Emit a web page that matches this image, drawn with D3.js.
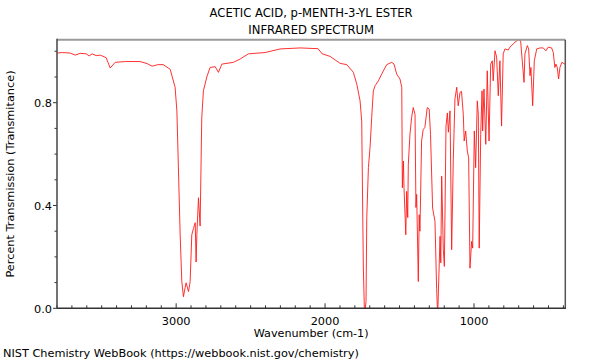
<!DOCTYPE html>
<html><head><meta charset="utf-8">
<script src="https://cdn.jsdelivr.net/npm/d3@7/dist/d3.min.js"></script>
<style>
html,body{margin:0;padding:0;background:#fff;}
svg{display:block;font-family:"DejaVu Sans",sans-serif;}
</style></head>
<body><svg id="c" width="600" height="360"></svg>
<script>
const titleLines = ["ACETIC ACID, p-MENTH-3-YL ESTER", "INFRARED SPECTRUM"];
const xLabel = "Wavenumber (cm-1)";
const yLabel = "Percent Transmission (Transmitance)";
const footer = "NIST Chemistry WebBook (https://webbook.nist.gov/chemistry)";
const xTicksMajor = [3000, 2000, 1000];
const yTicksMajor = [0.0, 0.4, 0.8];

const wavenumber = [3798,3765,3711,3678,3644,3604,3584,3564,3537,3510,3470,3443,3409,3342,3242,3195,3161,3121,3087,3040,3007,
 2995,2985,2973,2962,2951,2940,2933,2917,2906,2895,2884,2872,2866,2861,2850,2839,2828,2817,2794,2772,2738,2716,2693,2615,2570,2515,
 2403,2302,2168,2047,2020,1966,1899,1854,1810,1787,1765,1754,1743,1735,1725,1720,1709,1698,1687,1676,1664,1642,1620,1586,1552,1537,1519,1497,
 1485,1481,1474,1470,1458,1452,1445,1441,1430,1419,1408,1396,1390,1385,1374,1368,1363,1352,1341,1330,1314,1301,1292,1278,1262,1251,1244,
 1228,1223,1217,1206,1199,1188,1179,1172,1161,1150,1139,1128,1116,1106,1094,1084,1072,1066,1056,1045,1036,1027,1016,1009,
 998,989,978,971,965,955,946,942,933,921,911,899,888,877,871,859,848,837,826,815,804,792,770,759,725,703,687,676,664,658,642,633,
 624,618,606,595,579,557,535,517,502,479,468,457,450,441,432,423,410,390];
const transmittance = [0.993,0.995,0.993,0.985,0.992,0.99,0.982,0.99,0.983,0.985,0.975,0.935,0.957,0.96,0.96,0.952,0.942,0.948,0.948,0.93,0.86,
 0.768,0.55,0.286,0.104,0.045,0.08,0.099,0.065,0.104,0.286,0.31,0.333,0.18,0.286,0.43,0.32,0.74,0.846,0.9,0.937,0.94,0.918,0.95,0.957,0.97,0.99,
 0.995,1.009,1.013,1.01,0.99,0.98,0.953,0.948,0.918,0.872,0.807,0.729,0.157,-0.03,0.026,0.353,0.548,0.626,0.743,0.846,0.866,0.885,0.911,0.948,0.957,0.95,0.911,0.892,
 0.86,0.469,0.573,0.47,0.286,0.455,0.353,0.56,0.677,0.742,0.781,0.755,0.392,0.443,0.104,0.364,0.3,0.651,0.696,0.703,0.781,0.775,0.677,0.39,0.338,0.078,-0.03,
 0.28,0.177,0.514,0.228,0.163,0.709,0.76,0.685,0.768,0.228,0.58,0.814,0.86,0.788,0.84,0.844,0.755,0.651,0.69,0.612,0.586,0.156,0.26,0.234,
 0.69,0.547,0.807,0.755,0.234,0.677,0.846,0.69,0.853,0.638,0.924,0.651,0.95,0.963,0.885,1.002,0.977,0.827,0.963,0.709,0.99,1.009,1.005,1.016,1.035,1.045,1.041,0.963,0.879,0.99,1.022,1.009,
 0.905,0.937,0.788,0.963,1.009,1.013,1.013,1.002,1.016,1.013,0.996,0.937,0.95,0.937,0.892,0.937,0.957,0.95];

const svg = d3.select("#c");
const L = 57, R = 565.3, T = 39.7, B = 308.3;
const x = d3.scaleLinear().domain([3800, 387]).range([L, R]);
const y = d3.scaleLinear().domain([0, 1.045]).range([B, T]);

svg.append("defs").append("clipPath").attr("id","pc")
  .append("rect").attr("x",L).attr("y",T).attr("width",R-L).attr("height",B-T);

const data = wavenumber.map((w,i)=>[w, transmittance[i]]);
const line = d3.line().x(d=>x(d[0])).y(d=>y(d[1]));
svg.append("path").datum(data).attr("clip-path","url(#pc)")
  .attr("d",line).attr("fill","none").attr("stroke","#ff1a1a").attr("stroke-width",0.9);

// frame
svg.append("line").attr("x1",L).attr("x2",R).attr("y1",T).attr("y2",T).attr("stroke","#9a9a9a").attr("stroke-width",2);
svg.append("line").attr("x1",R).attr("x2",R).attr("y1",T).attr("y2",B).attr("stroke","#555").attr("stroke-width",1.5);

// bottom axis (ticks inward)
const xMinor = d3.range(3800, 386, -100);
const xAx = svg.append("g").attr("transform",`translate(0,${B})`);
xAx.selectAll("line.minor").data(xMinor).join("line")
  .attr("x1",d=>x(d)).attr("x2",d=>x(d)).attr("y1",0)
  .attr("y2",d=>xTicksMajor.includes(d)?-5:-3).attr("stroke","#333").attr("stroke-width",1);
xAx.append("line").attr("x1",L).attr("x2",R+0.7).attr("y1",0).attr("y2",0).attr("stroke","#333").attr("stroke-width",1.5);
xAx.selectAll("text").data(xTicksMajor).join("text")
  .attr("x",d=>x(d)).attr("y",16.5).attr("text-anchor","middle")
  .attr("font-size",11.3).attr("fill","#000").text(d=>d);

// left axis (ticks outward)
const yMinor = d3.range(0, 11).map(i=>i/10);
const yAx = svg.append("g").attr("transform",`translate(${L},0)`);
yAx.selectAll("line.t").data(yMinor).join("line")
  .attr("y1",d=>y(d)).attr("y2",d=>y(d)).attr("x1",0)
  .attr("x2",(d)=>yTicksMajor.some(m=>Math.abs(m-d)<1e-9)?-4:-2.5).attr("stroke","#333").attr("stroke-width",1);
yAx.append("line").attr("x1",0).attr("x2",0).attr("y1",T-1).attr("y2",B+0.7).attr("stroke","#444").attr("stroke-width",1.5);
yAx.selectAll("text").data(yTicksMajor).join("text")
  .attr("x",-5).attr("y",d=>y(d)+4.3).attr("text-anchor","end")
  .attr("font-size",11.3).attr("fill","#000").text(d=>d.toFixed(1));

// titles
const cx = (L+R)/2;
svg.append("text").attr("x",cx).attr("y",17).attr("text-anchor","middle").attr("font-size",11.6).text(titleLines[0]);
svg.append("text").attr("x",cx).attr("y",34).attr("text-anchor","middle").attr("font-size",11.6).text(titleLines[1]);
svg.append("text").attr("x",cx).attr("y",337).attr("text-anchor","middle").attr("font-size",11.2).text(xLabel);
svg.append("text").attr("transform",`translate(14,${(T+B)/2}) rotate(-90)`).attr("text-anchor","middle").attr("font-size",11.3).text(yLabel);
svg.append("text").attr("x",3).attr("y",357).attr("font-size",11.3).text(footer);
</script></body></html>
